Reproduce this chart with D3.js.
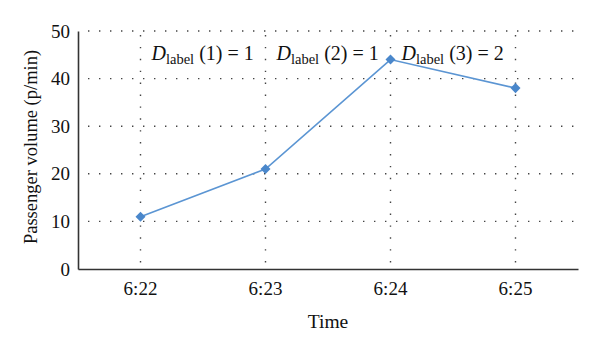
<!DOCTYPE html>
<html>
<head>
<meta charset="utf-8">
<script src="https://cdn.jsdelivr.net/npm/d3@7"></script>
<style>
  body { margin: 0; background: #fff; }
  text { font-family: "Liberation Serif", "DejaVu Serif", serif; fill: #111; }
</style>
</head>
<body>
<svg id="chart" width="600" height="352"></svg>
<script>
const times = ['6:22', '6:23', '6:24', '6:25'];
const volumes = [11, 21, 44, 38];
const yTicks = [0, 10, 20, 30, 40, 50];
const labelIndex = ['1', '2', '3'];
const labelValues = [1, 1, 2];

const margin = { top: 31, right: 22, bottom: 83, left: 78 };
const width = 600, height = 352;

const svg = d3.select('#chart');

const x = d3.scaleBand()
  .domain(times)
  .range([margin.left, width - margin.right]);

const y = d3.scaleLinear()
  .domain([0, 50])
  .range([height - margin.bottom, margin.top]);

const xc = d => x(d) + x.bandwidth() / 2;

// grid
const grid = svg.append('g')
  .attr('stroke', '#444')
  .attr('stroke-width', 1.4)
  .attr('stroke-dasharray', '1.4,9.6');

grid.selectAll('line.h')
  .data(yTicks.filter(d => d > 0))
  .join('line')
  .attr('class', 'h')
  .attr('x1', margin.left + 10)
  .attr('x2', width - margin.right)
  .attr('y1', d => y(d))
  .attr('y2', d => y(d));

grid.selectAll('line.v')
  .data(times)
  .join('line')
  .attr('class', 'v')
  .attr('x1', d => xc(d))
  .attr('x2', d => xc(d))
  .attr('y1', y(50) + 4)
  .attr('y2', y(0) - 4)
  .attr('stroke-dasharray', '1.4,10.5');

// axes
const yAxis = svg.append('g')
  .attr('transform', `translate(${margin.left},0)`)
  .call(d3.axisLeft(y).tickValues(yTicks).tickSize(0).tickPadding(8));
yAxis.select('.domain').attr('stroke', '#333').attr('stroke-width', 1.6);
yAxis.selectAll('text').style('font-size', '19px').style('font-family', '"Liberation Serif", serif').attr('fill', '#111');

const xAxis = svg.append('g')
  .attr('transform', `translate(0,${y(0)})`)
  .call(d3.axisBottom(x).tickSize(0).tickPadding(13));
xAxis.select('.domain').attr('stroke', '#333').attr('stroke-width', 1.6);
xAxis.selectAll('text').style('font-size', '19px').style('font-family', '"Liberation Serif", serif').attr('fill', '#111');

// axis titles
svg.append('text')
  .attr('x', xc('6:23') + x.bandwidth() / 2)
  .attr('y', 328)
  .attr('text-anchor', 'middle')
  .style('font-size', '19.5px')
  .text('Time');

svg.append('text')
  .attr('transform', `translate(37,${(y(0) + y(50)) / 2 - 3}) rotate(-90)`)
  .attr('text-anchor', 'middle')
  .style('font-size', '18.5px')
  .text('Passenger volume (p/min)');

// series
const line = d3.line()
  .x((d, i) => xc(times[i]))
  .y(d => y(d));

svg.append('path')
  .datum(volumes)
  .attr('fill', 'none')
  .attr('stroke', '#5b95d3')
  .attr('stroke-width', 1.6)
  .attr('d', line);

svg.selectAll('path.marker')
  .data(volumes)
  .join('path')
  .attr('class', 'marker')
  .attr('d', d3.symbol(d3.symbolDiamond2, 64))
  .attr('transform', (d, i) => `translate(${xc(times[i])},${y(d)})`)
  .attr('fill', '#4a87cb');

// D_label annotations, each sits right of a vertical grid line
const ann = svg.selectAll('text.ann')
  .data(labelIndex)
  .join('text')
  .attr('class', 'ann')
  .attr('x', (d, i) => xc(times[i]) + 11)
  .attr('y', 60)
  .style('font-size', '20px');

ann.append('tspan').style('font-style', 'italic').text('D');
ann.append('tspan').style('font-size', '14.5px').attr('dy', 4).text('label');
ann.append('tspan').attr('dy', -4).text((d, i) => ` (${d}) = ${labelValues[i]}`);
</script>
</body>
</html>
